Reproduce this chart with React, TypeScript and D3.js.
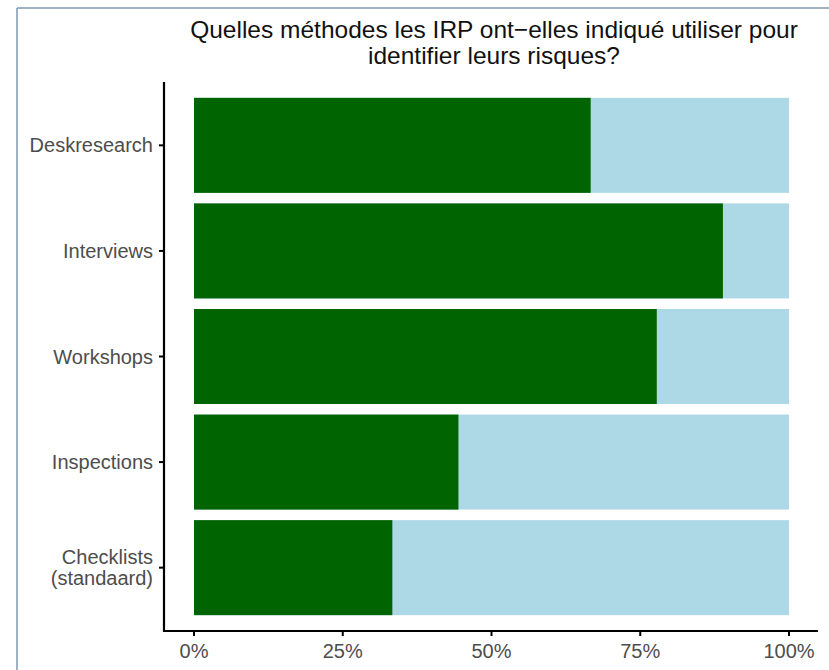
import React from "react";
import * as d3 from "d3";

const categories = ["Deskresearch", "Interviews", "Workshops", "Inspections", "Checklists\n(standaard)"];
const yesShare = [6 / 9, 8 / 9, 7 / 9, 4 / 9, 3 / 9];
const xTicks = [0, 0.25, 0.5, 0.75, 1];
const xTickLabels = ["0%", "25%", "50%", "75%", "100%"];
const titleLines = ["Quelles méthodes les IRP ont\u2212elles indiqué utiliser pour", "identifier leurs risques?"];

const W = 829;
const H = 670;
const FONT = "'Liberation Sans', Arial, sans-serif";
const GREEN = "#006400";
const LIGHT = "#ADD8E6";

export default function App() {
  const x = d3.scaleLinear().domain([0, 1]).range([194, 789]);
  const y = d3.scaleBand<string>().domain(categories).range([82, 631]).paddingInner(0.1).paddingOuter(0.15);
  const axisLeft = 164;
  const axisBottom = 631;
  return (
    <svg width={W} height={H} style={{ position: "absolute", left: 0, top: 0, background: "#fff" }} fontFamily={FONT}>
      <rect x={0} y={0} width={W} height={H} fill="#fff" />
      <line x1={17} y1={8} x2={W} y2={8} stroke="#7f99b0" strokeWidth={1.5} />
      <line x1={17} y1={8} x2={17} y2={H} stroke="#7f99b0" strokeWidth={1.5} />
      {titleLines.map((t, i) => (
        <text key={i} x={494} y={38 + i * 26} textAnchor="middle" fontSize={24.5} fill="#111">
          {t}
        </text>
      ))}
      {categories.map((c, i) => {
        const y0 = y(c)!;
        const bh = y.bandwidth();
        return (
          <g key={c}>
            <rect x={x(0)} y={y0} width={x(1) - x(0)} height={bh} fill={LIGHT} />
            <rect x={x(0)} y={y0} width={x(yesShare[i]) - x(0)} height={bh} fill={GREEN} />
          </g>
        );
      })}
      {/* y axis */}
      <line x1={axisLeft} y1={82} x2={axisLeft} y2={axisBottom + 1} stroke="#000" strokeWidth={2.2} />
      {categories.map((c) => {
        const cy = y(c)! + y.bandwidth() / 2;
        const lines = c.split("\n");
        return (
          <g key={c}>
            <line x1={axisLeft - 5} y1={cy} x2={axisLeft} y2={cy} stroke="#000" strokeWidth={2} />
            {lines.map((l, j) => (
              <text
                key={j}
                x={axisLeft - 11}
                y={cy + 7 + (j - (lines.length - 1) / 2) * 21}
                textAnchor="end"
                fontSize={20}
                fill="#4d4d4d"
              >
                {l}
              </text>
            ))}
          </g>
        );
      })}
      {/* x axis */}
      <line x1={axisLeft - 1} y1={axisBottom} x2={818} y2={axisBottom} stroke="#000" strokeWidth={2.2} />
      {xTicks.map((t, i) => (
        <g key={t}>
          <line x1={x(t)} y1={axisBottom} x2={x(t)} y2={axisBottom + 5} stroke="#000" strokeWidth={2} />
          <text x={x(t)} y={axisBottom + 27} textAnchor="middle" fontSize={20} fill="#4d4d4d">
            {xTickLabels[i]}
          </text>
        </g>
      ))}
    </svg>
  );
}
